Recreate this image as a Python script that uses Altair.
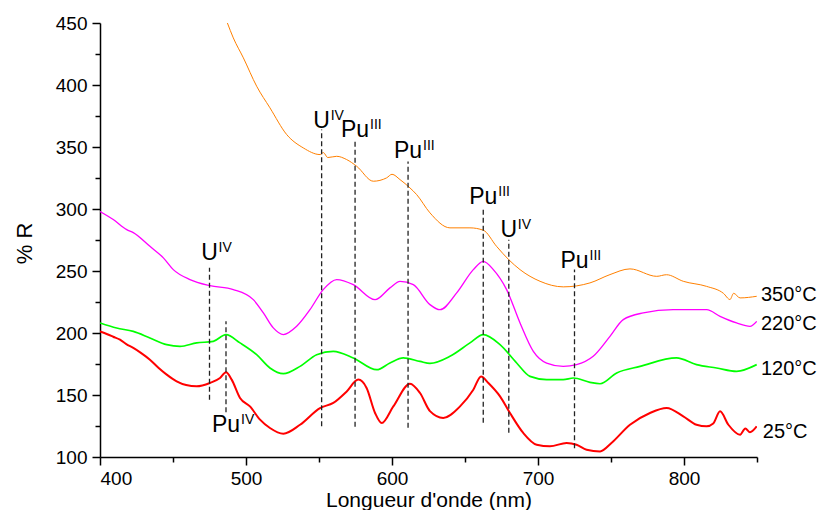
import altair as alt
import pandas as pd

# ---------------- data ----------------
red_nm = [400, 405, 409, 413.7, 418, 422.8, 428, 434.2, 440, 445.7, 452.5, 459, 466.2, 475.3, 482.2,
          486.3, 490.2, 495.9, 502.7, 509.6, 516.4, 525.6, 537, 550.7, 559.8, 569, 576.9, 582.6,
          588.4, 593, 600.9, 612.3, 619.2, 626, 635.1, 646.6, 655.7, 661, 666, 674, 680.8, 689.9,
          699.1, 708.2, 719.6, 726.4, 733.3, 742.5, 750.3, 763, 776.7, 788.1, 799.5, 808.6, 815.5,
          820, 824.7, 830.4, 838.4, 842, 845.2, 849.8]
red_val = [201.3, 199, 197, 194.6, 191, 188, 184, 178.5, 172, 166.4, 161, 158, 157, 159.7, 163.7,
           168.3, 162.4, 147.6, 140.8, 130.1, 123.4, 118.8, 126, 139.5, 143.6, 152.9, 162.4, 155.7,
           135.5, 127.4, 140.8, 159.1, 151.6, 137, 131.5, 140.8, 154.3, 165, 159.7, 148.9, 135.5, 119.4,
           109.9, 108.6, 111.3, 109.9, 105.9, 104.5, 111.3, 126, 135.5, 139.5, 132.8, 126, 124.7,
           127, 136.8, 126, 118, 123, 120, 124.7]

green_nm = [400, 411.4, 422.8, 434.2, 445.7, 454.8, 466.2, 477.6, 486.3, 495.9, 507.3, 516.4, 525.6,
            537, 548.4, 559.8, 573.5, 589.5, 598.6, 607.7, 619.2, 626, 639.7, 653.4, 662.5, 674, 685.4,
            694.5, 705.9, 717.3, 724.2, 735.6, 742.5, 753.9, 769.9, 794.9, 808.6, 822.3, 836, 849.8]
green_val = [208.1, 204, 201.3, 196, 190.6, 189.2, 192, 193.3, 198.7, 192, 182.5, 171.8, 167.2,
             173.1, 182.5, 185.2, 179.9, 170.4, 175.8, 179.9, 177.1, 175.5, 181.2, 192, 198.7, 190.6, 175.8,
             165, 162.4, 162.4, 163.7, 160.2, 159.1, 167.8, 173.1, 179.9, 174.5, 171.8, 169.1, 174.5]

magenta_nm = [400, 409.1, 418.3, 422.8, 434.2, 443.4, 450.2, 461.6, 475.3, 491.3, 505, 511.9, 518.7,
              525.6, 534.7, 543.8, 552.9, 562.1, 573.5, 588.4, 598.6, 605.5, 614.6, 626, 632.9, 644.3,
              655.7, 662.5, 669.4, 678.5, 687.7, 696.8, 705.9, 717.3, 726.4, 737.8, 749.3, 758.4, 772.1,
              792.6, 815.5, 824.7, 836, 845.2, 849.8]
magenta_val = [298, 291.5, 283.4, 281, 269.9, 260.6, 251.1, 243.1, 238.2, 235, 226.9, 216.2, 204.1,
               198.7, 205.4, 218.8, 235, 243.1, 239, 226.9, 236.4, 241.7, 239, 222.9, 218.8, 232.3,
               251.1, 257.8, 251.1, 235, 208.1, 185.2, 175.8, 173.1, 174.5, 181.2, 197.3, 210.8, 216.2,
               218.8, 218.8, 213.4, 208.1, 205.4, 209.4]

orange_nm = [487.2, 491.3, 498.2, 507.3, 516.4, 527.9, 539.2, 550.7, 553, 556, 562.1, 568.9, 575.8,
             587.2, 596.3, 600, 605.5, 612.3, 616.9, 626, 639.7, 653.4, 662.5, 671.6, 679.9, 687.7,
             701.4, 717.3, 735.6, 749.3, 763, 781.3, 788, 799.5, 815.5, 827, 831.5, 834, 838.4, 849.8]
orange_val = [450.2, 438, 421.9, 399, 381.6, 360, 349.3, 343.9, 345.5, 341.5, 342.5, 339.9, 334.5,
              322.4, 325.1, 328, 323.7, 317, 311.6, 296.9, 284.8, 284.8, 282.9, 269.9, 259.2, 251.1,
              241.7, 237.2, 240.4, 247.1, 251.7, 245.7, 247, 241.7, 237.6, 232, 227, 232, 228.3, 229.6]

series_names = ["350°C", "220°C", "120°C", "25°C"]
series_colors = ["#FF8000", "#FF00FF", "#00FF00", "#FF0000"]
series_widths = [1.0, 2.0, 2.0, 2.0]

# temperature labels (placed just right of the plot)
temp_label_nm = [852.7, 852.7, 852.7, 854]
temp_label_val = [231, 206.9, 170.6, 120.4]

# band annotations
ann_nm = [475, 486.3, 551.8, 574.7, 611, 662.5, 680, 725]
ann_base = ["U", "Pu", "U", "Pu", "Pu", "Pu", "U", "Pu"]
ann_sup = ["IV", "IV", "IV", "III", "III", "III", "IV", "III"]
ann_text_val = [259.2, 120.4, 365.7, 358.4, 341.5, 304.4, 277.7, 252.7]
line_top = [252.7, 209.4, 364.1, 356, 338.3, 299.5, 275.3, 251.2]
line_bot = [146.2, 136, 124.7, 124.4, 123.6, 127.7, 119.6, 107]

x_major = [400, 500, 600, 700, 800]
x_minor = [450, 550, 650, 750, 850]
y_major = [100, 150, 200, 250, 300, 350, 400, 450]
y_minor = [125, 175, 225, 275, 325, 375, 425]

# ---------------- tables ----------------
rows = []
for name, xs, ys in zip(series_names,
                        [orange_nm, magenta_nm, green_nm, red_nm],
                        [orange_val, magenta_val, green_val, red_val]):
    for i, (a, b) in enumerate(zip(xs, ys)):
        rows.append({"serie": name, "nm": a, "R": b, "i": i})
curves = pd.DataFrame(rows)

labels = pd.DataFrame({"serie": series_names, "nm": temp_label_nm, "R": temp_label_val})
ann = pd.DataFrame({"nm": ann_nm, "base": ann_base, "sup": ann_sup, "ty": ann_text_val,
                    "top": line_top, "bot": line_bot})

FONT = "Liberation Sans"
xscale = alt.Scale(domain=[400, 850], nice=False, zero=False)
yscale = alt.Scale(domain=[100, 450], nice=False, zero=False)
cscale = alt.Scale(domain=series_names, range=series_colors)
wscale = alt.Scale(domain=series_names, range=series_widths)

x_major_axis = alt.Axis(values=x_major, orient="bottom", tickSize=8, tickWidth=1.5, tickColor="black",
                        domainColor="black", domainWidth=1.5, grid=False, labelFont=FONT,
                        labelFontSize=19, labelColor="black", labelPadding=4, titleFont=FONT,
                        titleFontSize=21, titleFontWeight="normal", titleColor="black",
                        titleY=49, titleBaseline="alphabetic", format="d")
y_major_axis = alt.Axis(values=y_major, orient="left", tickSize=8, tickWidth=1.5, tickColor="black",
                        domainColor="black", domainWidth=1.5, grid=False, labelFont=FONT,
                        labelFontSize=19, labelColor="black", labelPadding=5, titleFont=FONT,
                        titleFontSize=22, titleFontWeight="normal", titleColor="black",
                        titleX=-69, titleY=220, titleAngle=-90, titleAlign="center",
                        titleBaseline="alphabetic", format="d")
x_minor_axis = alt.Axis(values=x_minor, orient="bottom", tickSize=5, tickWidth=1.5, tickColor="black",
                        domain=False, labels=False, grid=False)
y_minor_axis = alt.Axis(values=y_minor, orient="left", tickSize=5, tickWidth=1.5, tickColor="black",
                        domain=False, labels=False, grid=False)

lines = alt.Chart(curves).mark_line(clip=True, interpolate="monotone").encode(
    x=alt.X("nm:Q", scale=xscale, axis=x_major_axis, title="Longueur d'onde (nm)"),
    y=alt.Y("R:Q", scale=yscale, axis=y_major_axis, title="% R"),
    color=alt.Color("serie:N", scale=cscale, legend=None),
    strokeWidth=alt.StrokeWidth("serie:N", scale=wscale, legend=None),
    detail="serie:N",
    order="i:Q",
)

rules = alt.Chart(ann).mark_rule(strokeDash=[5, 3], color="#222222", strokeWidth=1.3).encode(
    x=alt.X("nm:Q", scale=xscale, axis=x_minor_axis, title=None),
    y=alt.Y("bot:Q", scale=yscale, axis=y_minor_axis, title=None),
    y2="top:Q",
)

base_txt = alt.Chart(ann).mark_text(font=FONT, fontSize=23, align="center", baseline="alphabetic",
                                    color="black").encode(
    x=alt.X("nm:Q", scale=xscale, axis=None),
    y=alt.Y("ty:Q", scale=yscale, axis=None),
    text="base:N",
)
sup_u = alt.Chart(ann).transform_filter(alt.datum.base == "U").mark_text(
    font=FONT, fontSize=14, align="left", baseline="alphabetic", dx=9, dy=-8, color="black").encode(
    x=alt.X("nm:Q", scale=xscale, axis=None),
    y=alt.Y("ty:Q", scale=yscale, axis=None),
    text="sup:N",
)
sup_pu = alt.Chart(ann).transform_filter(alt.datum.base == "Pu").mark_text(
    font=FONT, fontSize=14, align="left", baseline="alphabetic", dx=15, dy=-8, color="black").encode(
    x=alt.X("nm:Q", scale=xscale, axis=None),
    y=alt.Y("ty:Q", scale=yscale, axis=None),
    text="sup:N",
)

temp_txt = alt.Chart(labels).mark_text(font=FONT, fontSize=20, align="left", baseline="middle",
                                       color="black").encode(
    x=alt.X("nm:Q", scale=xscale, axis=None),
    y=alt.Y("R:Q", scale=yscale, axis=None),
    text="serie:N",
)

chart = alt.layer(lines, rules, base_txt, sup_u, sup_pu, temp_txt).resolve_axis(
    x="independent", y="independent"
).properties(
    width=657, height=434,
    autosize=alt.AutoSizeParams(type="none"),
    padding={"left": 92, "top": 15, "right": 62, "bottom": 53},
    background="white",
).configure_view(stroke=None)

chart.save("out.html", embed_options={"renderer": "svg", "actions": False})
